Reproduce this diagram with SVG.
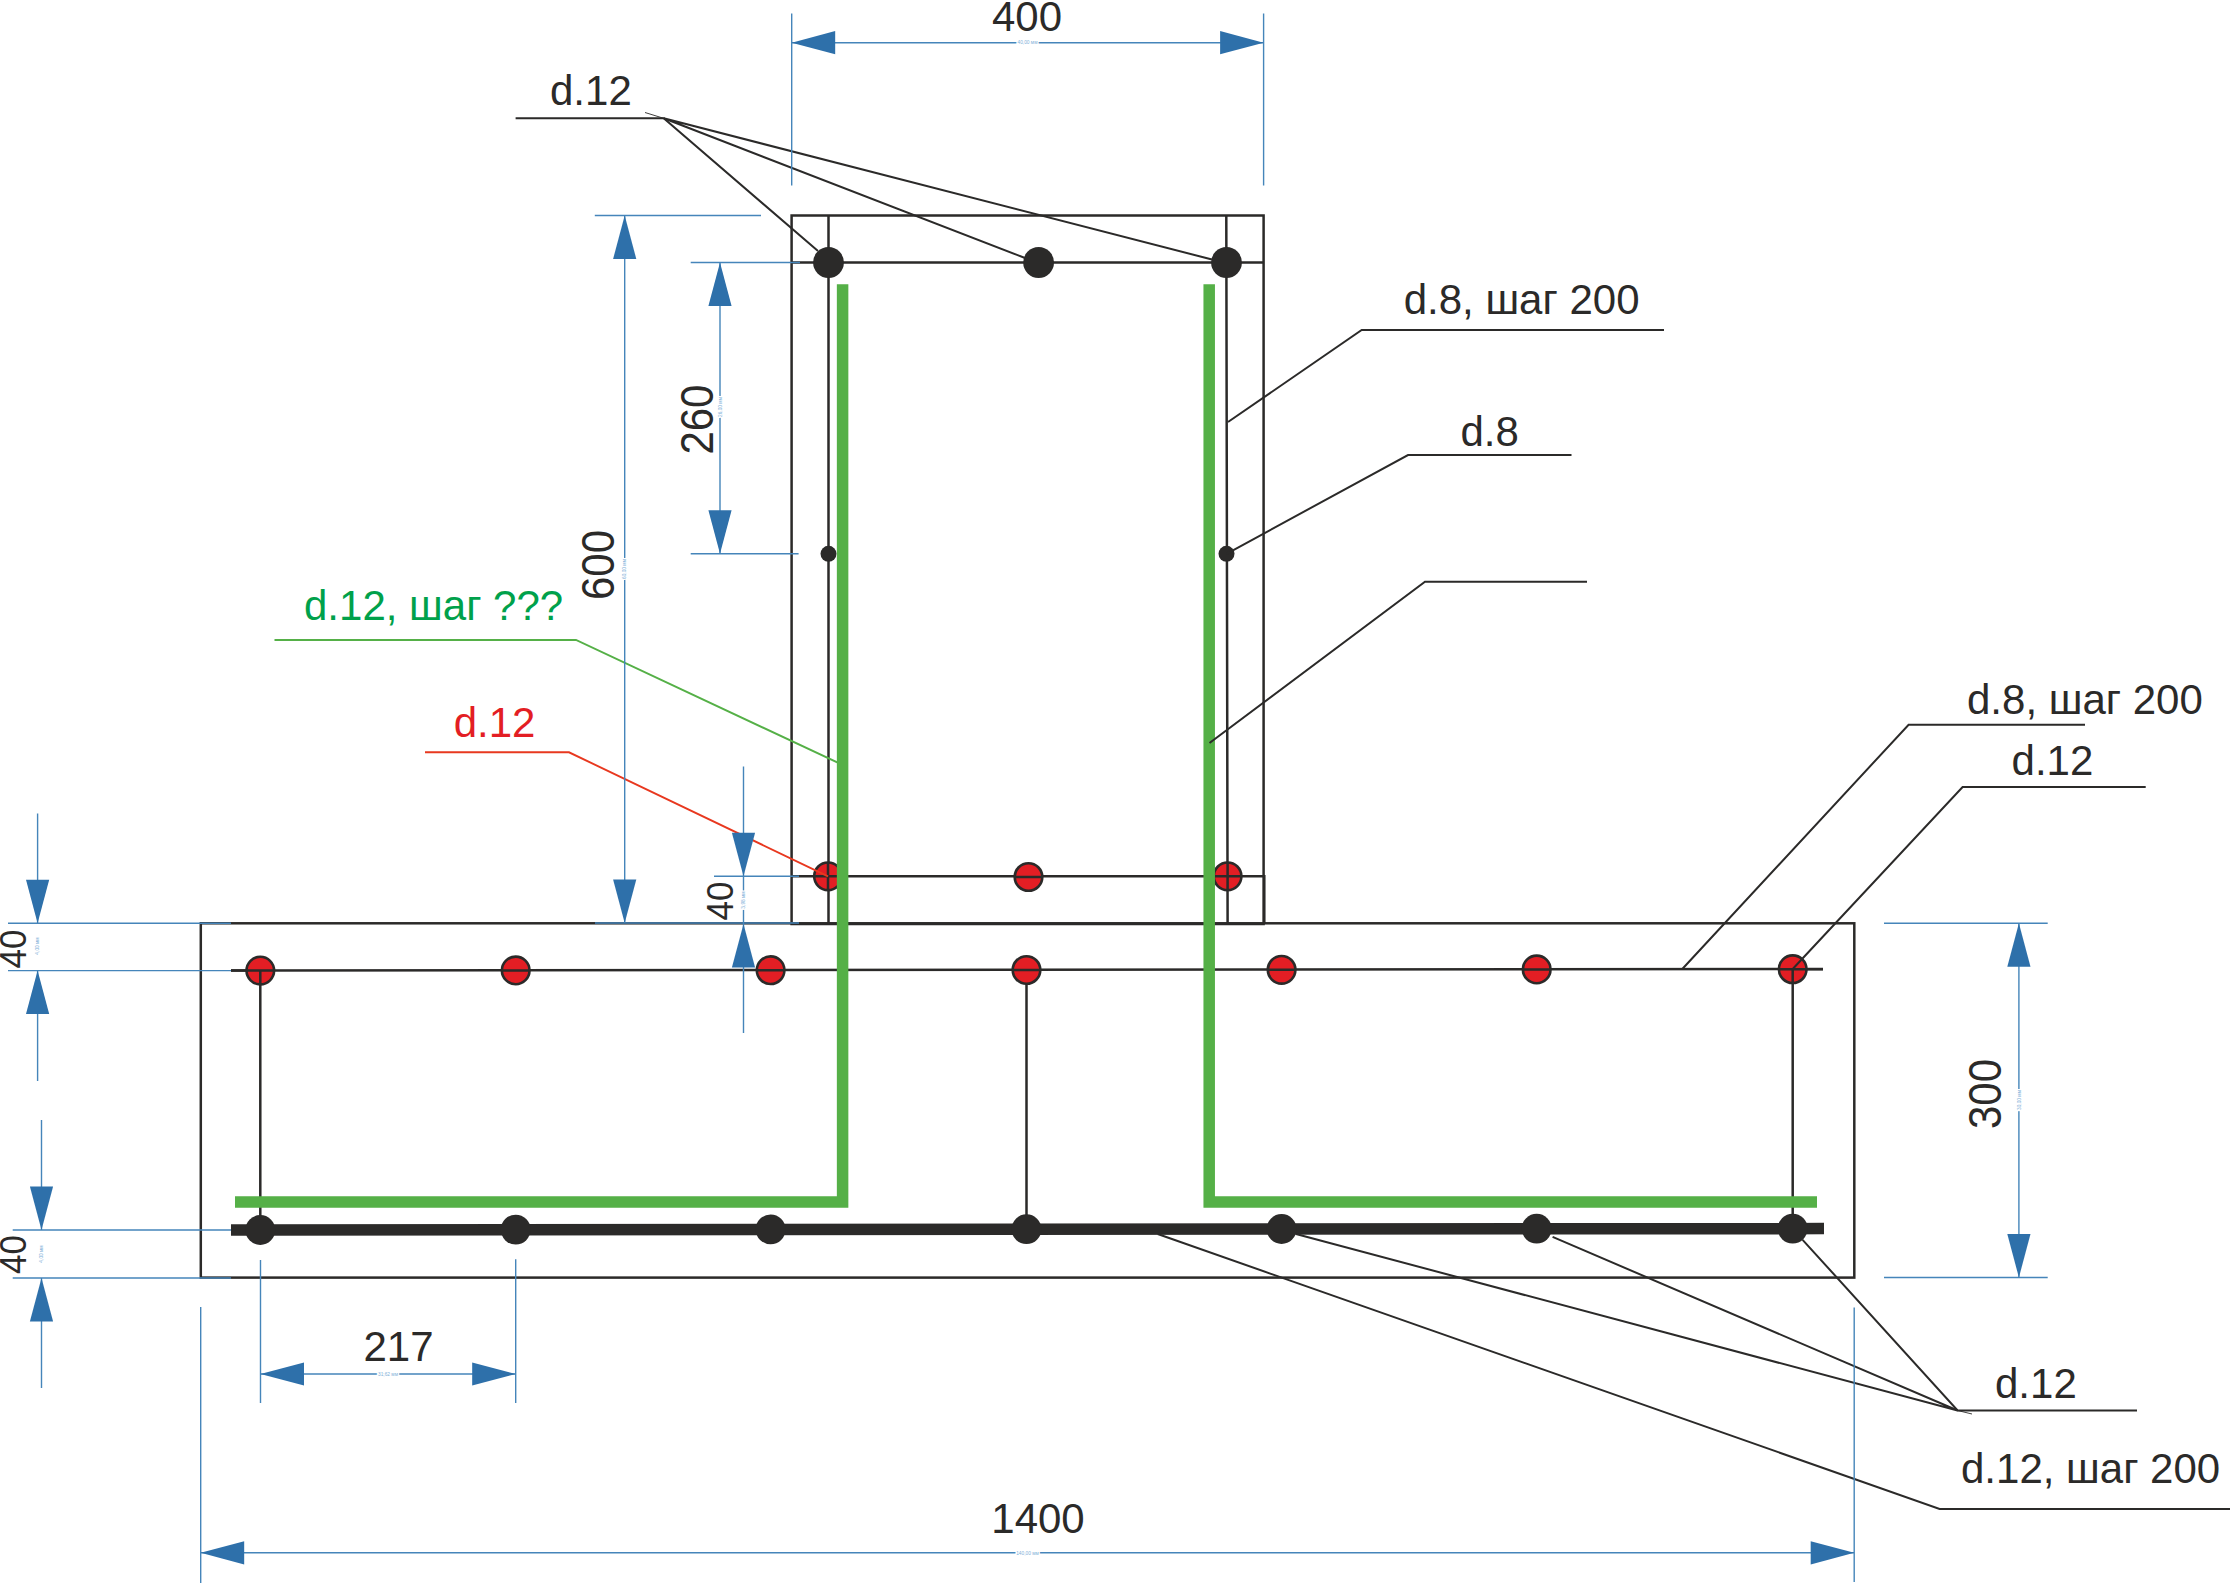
<svg xmlns="http://www.w3.org/2000/svg" xmlns:xlink="http://www.w3.org/1999/xlink" width="2230" height="1583" viewBox="0 0 2230 1583">
<style>
text{font-family:"Liberation Sans",Arial,sans-serif;font-size:42px;fill:#2b2a29}
.concrete{fill:none;stroke:#2b2a29;stroke-width:2.5}
.link{fill:none;stroke:#2b2a29;stroke-width:2.5}
.green{fill:none;stroke:#55b047;stroke-width:11.5;stroke-miterlimit:10}
.red{fill:#e31e24;stroke:#2b2a29;stroke-width:2.6}
.blk{fill:#2b2a29}
.lead{fill:none;stroke:#2b2a29;stroke-width:2}
.tail{fill:none;stroke:#2b2a29;stroke-width:.9}
.dim{fill:none;stroke:#4585ba;stroke-width:1.4}
.ah{fill:#2e70aa}
.tiny{font-size:4.8px;fill:#7fb0d8;text-anchor:middle;stroke:#fff;stroke-width:2.5px;paint-order:stroke}
.m{text-anchor:middle}
</style>
<defs>
<path id="ah" class="ah" d="M0 0L-43.5-11.6V11.6Z"/>
</defs>
<rect width="2230" height="1583" fill="#fff"/>

<g id="concrete-section">
<rect class="concrete" x="200.8" y="923.3" width="1653.5" height="354.3"/>
<rect class="concrete" x="791.6" y="215.5" width="472" height="708.5"/>
</g>

<g id="stirrups">
<path class="link" d="M791.6 262.5H1263.6M828.5 215.5V923.5M1226.3 215.5L1227.6 923.5M791.6 876.3H1264.3V923.5"/>
<path class="link" d="M231 970.6L1823 969"/>
<path class="link" d="M260.3 970.6V1230M1026.5 970V1229.5M1792.7 969V1228.6"/>
<path fill="none" stroke="#2b2a29" stroke-width="11.5" d="M231 1230L1824 1228.6"/>
</g>

<g id="bars-column-top">
<circle class="blk" cx="828.5" cy="262.5" r="15.4"/>
<circle class="blk" cx="1038.6" cy="262.5" r="15.4"/>
<circle class="blk" cx="1226.5" cy="262.5" r="15.4"/>
<circle class="blk" cx="828.5" cy="553.8" r="8"/>
<circle class="blk" cx="1226.5" cy="553.8" r="8"/>
</g>

<g id="bars-column-bottom">
<circle class="red" cx="828" cy="876.3" r="13.8"/>
<circle class="red" cx="1028.5" cy="877" r="13.8"/>
<circle class="red" cx="1227.6" cy="876.3" r="13.8"/>
</g>

<g id="bars-flange-top">
<circle class="red" cx="260.3" cy="970.6" r="13.8"/>
<circle class="red" cx="515.7" cy="970.4" r="13.8"/>
<circle class="red" cx="770.6" cy="970.2" r="13.8"/>
<circle class="red" cx="1026.5" cy="970" r="13.8"/>
<circle class="red" cx="1281.6" cy="969.8" r="13.8"/>
<circle class="red" cx="1536.7" cy="969.4" r="13.8"/>
<circle class="red" cx="1792.7" cy="969.2" r="13.8"/>
<path class="link" d="M814 876.3H842M828 862.8V889.8M1214 876.3H1241M1227.6 862.8V889.8M231 970.6H273M502 970.4H529M757 970.2H784M1013 970H1040M1268 969.8H1295M1523 969.4H1550M1779 969.2H1823M260.3 970.6V984M1792.7 969.2V982"/>
<path class="link" d="M1015 877H1042"/>
</g>

<g id="bars-flange-bottom">
<circle class="blk" cx="260.3" cy="1230" r="14.9"/>
<circle class="blk" cx="515.7" cy="1229.6" r="14.9"/>
<circle class="blk" cx="770.6" cy="1229.4" r="14.9"/>
<circle class="blk" cx="1026.5" cy="1229.2" r="14.9"/>
<circle class="blk" cx="1281.6" cy="1229" r="14.9"/>
<circle class="blk" cx="1536.7" cy="1228.7" r="14.9"/>
<circle class="blk" cx="1792.7" cy="1228.6" r="14.9"/>
</g>

<g id="leaders">
<path class="lead" d="M515.6 118.3H663.7L818 251"/>
<path class="lead" d="M663.7 118.3L1025 258M663.7 118.3L1212 259.5"/>
<path class="tail" d="M645 112.5L663.7 118.3"/>
<path class="lead" d="M1664 330H1361.7L1228 422"/>
<path class="lead" d="M1571.5 455H1408L1226.5 553.8"/>
<path fill="none" stroke="#55b047" stroke-width="1.9" d="M274.5 640H576L840 763.7"/>
<path fill="none" stroke="#e8381f" stroke-width="1.9" d="M425 752.3H569L828 876.3"/>
<path class="lead" d="M2085 724.7H1908.6L1682.3 969"/>
<path class="lead" d="M2145.7 787H1962.6L1792.7 969"/>
<path class="lead" d="M2137 1410.5H1957.6L1802.6 1239.8"/>
<path class="lead" d="M1957.6 1410.5L1552.6 1236.9M1957.6 1410.5L1296 1234"/>
<path class="tail" d="M1957.6 1410.5L1972 1414"/>
<path class="lead" d="M2230 1508.9H1939.6L1157.7 1234"/>
</g>

<g id="reinforcement-green">
<path class="green" d="M235 1202H842.6V284.3"/>
<path class="green" d="M1817 1202H1209.2V284.3"/>
</g>

<g id="leader-over-green">
<path class="lead" d="M1587 581.7H1425L1209.5 743"/>
</g>

<g id="dimensions">
<g id="dim-400">
<path class="dim" d="M791.7 13.4V185.6M1263.6 13.4V185.6M791.7 42.7H1263.6"/>
<use xlink:href="#ah" href="#ah" transform="translate(791.7 42.7) rotate(180)"/>
<use xlink:href="#ah" href="#ah" transform="translate(1263.6 42.7)"/>
<text class="tiny" x="1027.5" y="44.4">40,00 мм</text>
</g>
<g id="dim-600">
<path class="dim" d="M594.8 215.5H761M624.7 215.5V923M595 923H799"/>
<use xlink:href="#ah" href="#ah" transform="translate(624.7 215.5) rotate(-90)"/>
<use xlink:href="#ah" href="#ah" transform="translate(624.7 923) rotate(90)"/>
<text class="tiny" transform="translate(626.4 569) rotate(-90)">60,00 мм</text>
</g>
<g id="dim-260">
<path class="dim" d="M690.7 262.5H800M690.7 553.8H798.6M720 262.5V553.8"/>
<use xlink:href="#ah" href="#ah" transform="translate(720 262.5) rotate(-90)"/>
<use xlink:href="#ah" href="#ah" transform="translate(720 553.8) rotate(90)"/>
<text class="tiny" transform="translate(721.7 407) rotate(-90)">26,00 мм</text>
</g>
<g id="dim-40-column">
<path class="dim" d="M714 876.3H799M743.5 766.5V1033"/>
<use xlink:href="#ah" href="#ah" transform="translate(743.5 876.3) rotate(90)"/>
<use xlink:href="#ah" href="#ah" transform="translate(743.5 924) rotate(-90)"/>
<text class="tiny" transform="translate(745.2 900) rotate(-90)">3,98 мм</text>
</g>
<g id="dim-40-top">
<path class="dim" d="M8 923.3H231M8 970.6H231M37.6 813.5V923.3M37.6 970.6V1081"/>
<use xlink:href="#ah" href="#ah" transform="translate(37.6 923.3) rotate(90)"/>
<use xlink:href="#ah" href="#ah" transform="translate(37.6 970.6) rotate(-90)"/>
<text class="tiny" transform="translate(39.3 946) rotate(-90)">4,00 мм</text>
</g>
<g id="dim-40-bottom">
<path class="dim" d="M12.7 1230H231M12.7 1278H231M41.5 1120V1230M41.5 1278V1388"/>
<use xlink:href="#ah" href="#ah" transform="translate(41.5 1230) rotate(90)"/>
<use xlink:href="#ah" href="#ah" transform="translate(41.5 1278) rotate(-90)"/>
<text class="tiny" transform="translate(43.2 1254) rotate(-90)">4,00 мм</text>
</g>
<g id="dim-300">
<path class="dim" d="M1884 923.3H2047.7M1884 1277.5H2047.7M2018.9 923.3V1277.5"/>
<use xlink:href="#ah" href="#ah" transform="translate(2018.9 923.3) rotate(-90)"/>
<use xlink:href="#ah" href="#ah" transform="translate(2018.9 1277.5) rotate(90)"/>
<text class="tiny" transform="translate(2020.6 1100) rotate(-90)">30,00 мм</text>
</g>
<g id="dim-217">
<path class="dim" d="M260.5 1260V1403M515.7 1259.3V1403M260.5 1374H515.7"/>
<use xlink:href="#ah" href="#ah" transform="translate(260.5 1374) rotate(180)"/>
<use xlink:href="#ah" href="#ah" transform="translate(515.7 1374)"/>
<text class="tiny" x="388" y="1375.7">31,62 мм</text>
</g>
<g id="dim-1400">
<path class="dim" d="M200.7 1307V1583M1854.2 1307.5V1582M200.7 1552.8H1854.2"/>
<use xlink:href="#ah" href="#ah" transform="translate(200.7 1552.8) rotate(180)"/>
<use xlink:href="#ah" href="#ah" transform="translate(1854.2 1552.8)"/>
<text class="tiny" x="1027.5" y="1554.5">140,00 мм</text>
</g>
</g>

<g id="labels">
<text class="m" x="1027" y="31">400</text>
<text x="550" y="105">d.12</text>
<text x="1403.7" y="314">d.8, шаг 200</text>
<text x="1460.5" y="446">d.8</text>
<text x="304" y="620" style="fill:#00a14b">d.12, шаг ???</text>
<text x="453.7" y="737" style="fill:#e31e24">d.12</text>
<text x="1967" y="714">d.8, шаг 200</text>
<text x="2011.6" y="775.4">d.12</text>
<text x="1995" y="1398">d.12</text>
<text x="1961" y="1483">d.12, шаг 200</text>
<text class="m" x="398.5" y="1360.5">217</text>
<text class="m" x="1038" y="1533">1400</text>
<text class="m" transform="translate(2000.5 1094) rotate(-90) scale(1 1.1)">300</text>
<text class="m" transform="translate(712.5 419.6) rotate(-90) scale(1 1.1)">260</text>
<text class="m" transform="translate(614 565) rotate(-90) scale(1 1.1)">600</text>
<text class="m" style="font-size:35px" transform="translate(733 901) rotate(-90) scale(1 1.05)">40</text>
<text class="m" style="font-size:35px" transform="translate(26 949) rotate(-90) scale(1 1.05)">40</text>
<text class="m" style="font-size:35px" transform="translate(26 1254.5) rotate(-90) scale(1 1.05)">40</text>
</g>
</svg>
